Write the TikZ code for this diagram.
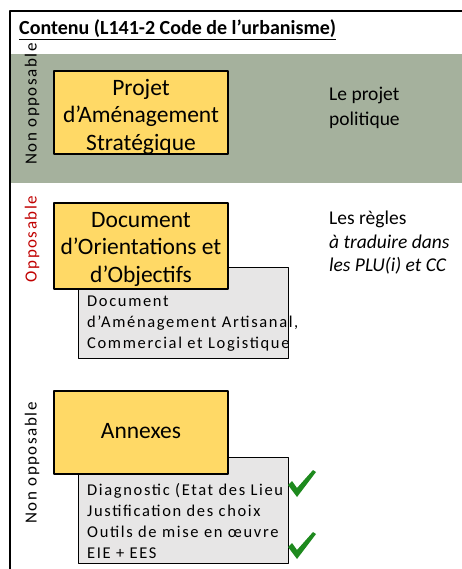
\documentclass[tikz,border=0pt]{standalone}
\usepackage{fontspec}
\setmainfont{Carlito}
\usetikzlibrary{positioning}

\definecolor{bandgreen}{HTML}{A5B19D}
\definecolor{boxyellow}{HTML}{FFD966}
\definecolor{boxgray}{HTML}{E7E6E6}
\definecolor{labelred}{HTML}{C00000}
\definecolor{tickgreen}{HTML}{1E8A1E}

\begin{document}
\begin{tikzpicture}[line join=round,x=1pt,y=-1pt,
  mainbox/.style={draw=black,line width=1.3pt,fill=boxyellow,minimum width=174pt,inner sep=0pt},
  boxtext/.style={align=center,inner sep=0pt,font=\fontsize{23.5}{27.5}\selectfont},
  subbox/.style={draw=black,line width=1pt,fill=boxgray,minimum width=210pt,inner sep=0pt},
  subtext/.style={anchor=north west,align=left,inner sep=0pt,font=\fontsize{16.5}{20.8}\selectfont\addfontfeature{LetterSpace=10}},
  sidelabel/.style={rotate=90,inner sep=0pt,font=\fontsize{17}{20}\selectfont\addfontfeature{LetterSpace=9}},
  note/.style={anchor=north west,align=left,inner sep=0pt,font=\fontsize{19.5}{24.5}\selectfont},
  tick/.style={fill=tickgreen}]
\useasboundingbox (0,0) rectangle (462,569);
% band and frame
\fill[bandgreen] (11,54) rectangle (462,183);
\draw[line width=2.5pt] (10,569) -- (10,11) -- (462,11);
\node (title) [anchor=base west,inner sep=0pt,font=\fontsize{20}{22}\selectfont\bfseries] at (19,35) {\underline{Contenu (L141-2 Code de l’urbanisme)}};

% side labels
\node (lab1) [sidelabel] at (32,104) {Non opposable};
\node (lab2) [sidelabel,text=labelred] at (32,239) {Opposable};
\node (lab3) [sidelabel] at (32,463) {Non opposable};

% PAS
\node (pas) [mainbox,minimum height=83pt] at (141,112.5) {};
\node (pastext) [boxtext] at ([yshift=-4pt]pas.center) {Projet\\d’Aménagement\\Stratégique};
\node (pasnote) [note] at (329,87) {Le projet\\politique};

% DOO + DAACL
\node (daacl) [subbox,minimum height=91pt] at (183,312.5) {};
\node (daacltext) [subtext] at (87,296) {Document\\d’Aménagement Artisanal,\\Commercial et Logistique};
\node (doo) [mainbox,minimum height=86pt] at (141,246) {};
\node (dootext) [boxtext] at ([yshift=-3pt]doo.center) {Document\\d’Orientations et\\d’Objectifs};
\node (doonote) [note,font=\fontsize{19.5}{23.5}\selectfont] at (329,211) {Les règles\\\textit{à traduire dans}\\\textit{les PLU(i) et CC}};

% Annexes
\node (annexlist) [subbox,minimum height=106pt] at (183,510) {};
\node (annextext) [subtext,font=\fontsize{16.5}{21}\selectfont\addfontfeature{LetterSpace=10}] at (87,483) {Diagnostic (Etat des Lieu\\Justification des choix\\Outils de mise en œuvre\\EIE + EES};
\node (annex) [mainbox,minimum height=83pt] at (141,432.5) {};
\node (annexname) [boxtext] at ([yshift=1pt]annex.center) {Annexes};

% ticks
\fill[tick,shift={(288,470)}] (0,15) -- (4,11) -- (9,18) -- (25,0) -- (28,2) -- (9,27) -- cycle;
\fill[tick,shift={(288,532)}] (0,15) -- (4,11) -- (9,18) -- (25,0) -- (28,2) -- (9,27) -- cycle;
\end{tikzpicture}
\end{document}
